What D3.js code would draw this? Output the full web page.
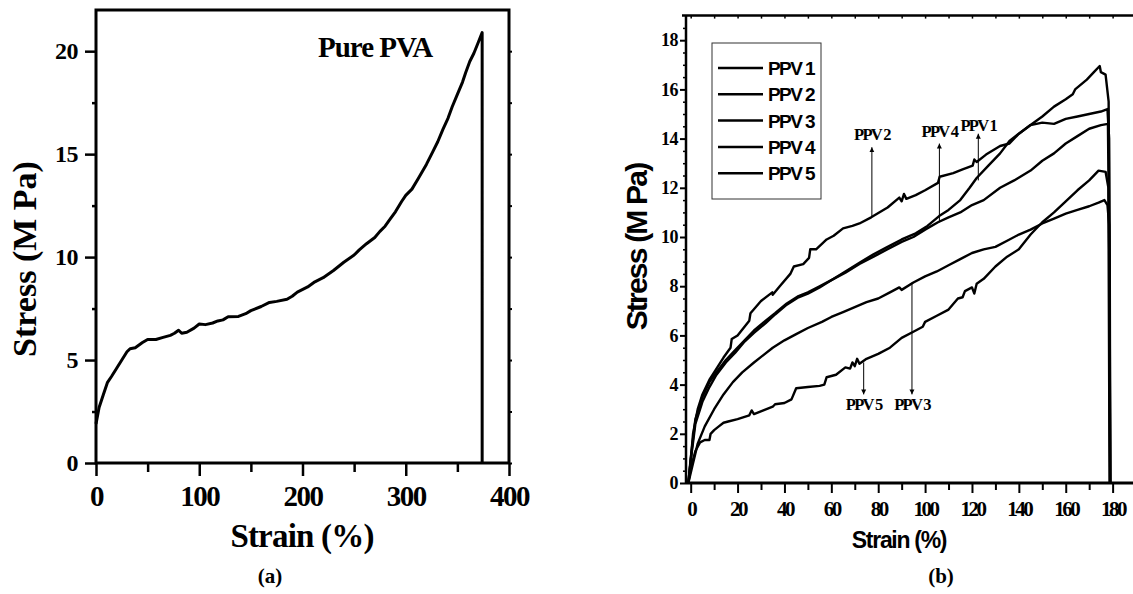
<!DOCTYPE html>
<html>
<head>
<meta charset="utf-8">
<script src="https://cdn.jsdelivr.net/npm/d3@7"></script>
<style>
  html, body { margin: 0; padding: 0; background: #fff; }
  svg { display: block; background: #fff; }
  .serif { font-family: "Liberation Serif", "Times New Roman", serif; font-weight: bold; }
  .sans { font-family: "Liberation Sans", Arial, sans-serif; font-weight: bold; }
</style>
</head>
<body>
<svg id="chart" width="1133" height="594"></svg>
<script>
/* Stress-strain curves: (a) pure PVA, (b) PPV1..PPV5 films. */

// ---- panel (a) data: [strain %, stress MPa]
var pvaCurve = [[0, 1.9], [3, 2.7], [7, 3.3], [11, 3.9], [15, 4.2], [20, 4.6], [25, 5.0], [30, 5.4],
  [33, 5.55], [38, 5.6], [45, 5.85], [50, 6.0], [58, 6.0], [65, 6.1], [72, 6.2], [76, 6.3], [80, 6.45],
  [83, 6.3], [88, 6.35], [95, 6.55], [100, 6.75], [106, 6.72], [113, 6.8], [118, 6.9], [123, 6.95],
  [128, 7.1], [138, 7.12], [145, 7.25], [150, 7.4], [160, 7.6], [168, 7.8], [175, 7.85], [185, 7.95],
  [190, 8.1], [195, 8.3], [205, 8.55], [212, 8.8], [220, 9.0], [230, 9.35], [240, 9.75], [250, 10.1],
  [255, 10.35], [262, 10.65], [270, 10.95], [275, 11.25], [280, 11.5], [285, 11.85], [290, 12.2],
  [296, 12.7], [300, 13.0], [306, 13.3], [312, 13.8], [320, 14.5], [326, 15.1], [331, 15.6], [336, 16.2],
  [341, 16.75], [345, 17.3], [350, 17.9], [355, 18.5], [358, 18.95], [362, 19.5], [366, 19.9],
  [370, 20.4], [374, 20.9], [374, 0]];
var pvaLabel = "Pure PVA";
var pvaXTicks = [0, 100, 200, 300, 400];
var pvaXMinor = [50, 150, 250, 350];
var pvaYTicks = [0, 5, 10, 15, 20];
var pvaYMinor = [2.5, 7.5, 12.5, 17.5];

// ---- panel (b) data
var ppvNames = ["PPV 1", "PPV 2", "PPV 3", "PPV 4", "PPV 5"];
var ppv1 = [[-1, 0], [0, 1.0], [2, 2.6], [5, 3.5], [8, 4.1], [11, 4.5], [15, 5.0], [19, 5.4], [23, 5.8],
  [27, 6.2], [32, 6.6], [36, 6.9], [41, 7.3], [46, 7.6], [50, 7.75], [55, 8.0], [61, 8.3], [66, 8.6],
  [72, 8.95], [78, 9.3], [84, 9.6], [90, 9.9], [96, 10.15], [101, 10.45], [106, 10.85], [110, 11.1],
  [115, 11.5], [119, 12.0], [122, 12.4], [127, 12.9], [132, 13.4], [136, 13.9], [140, 14.2], [145, 14.55],
  [150, 14.9], [155, 15.3], [160, 15.6], [163, 15.8], [164, 16.0], [169, 16.4], [172, 16.7],
  [174.5, 16.95], [175, 16.7], [177, 16.6], [178.3, 15.5], [178.8, 8], [179, 0]];
var ppv2 = [[-1, 0], [0, 0.9], [1, 2.0], [3, 3.0], [5, 3.6], [8, 4.2], [10, 4.5], [14, 5.1], [17, 5.5],
  [17.5, 5.85], [20, 6.0], [25, 6.6], [25.5, 6.9], [30, 7.4], [34.8, 7.75], [35, 7.65], [38, 8.0],
  [42.5, 8.5], [44, 8.8], [48, 8.9], [50.5, 9.15], [51, 9.5], [53.5, 9.5], [58, 9.9], [61, 10.05],
  [65, 10.35], [69, 10.45], [72, 10.55], [77, 10.8], [84, 11.2], [89, 11.6], [90, 11.45], [91, 11.75],
  [92, 11.55], [96, 11.7], [100, 11.9], [105.5, 12.2], [106.2, 12.45], [112, 12.6], [116, 12.75],
  [120.3, 12.9], [121, 13.15], [122, 13.05], [126, 13.35], [132, 13.7], [136, 13.8], [140, 14.2],
  [145, 14.55], [150, 14.65], [155, 14.6], [160, 14.8], [165, 14.9], [170, 15.0], [175, 15.1],
  [177.8, 15.2], [178.5, 14.0], [179, 0]];
var ppv3 = [[-1, 0], [1, 0.8], [3, 1.6], [6, 2.3], [10, 3.0], [14, 3.6], [18, 4.1], [22, 4.5], [27, 4.9],
  [31, 5.2], [35, 5.5], [40, 5.8], [45, 6.05], [50, 6.3], [56, 6.55], [60, 6.75], [65, 6.95], [70, 7.15],
  [75, 7.35], [80, 7.5], [85, 7.75], [89, 7.95], [90, 7.85], [95, 8.15], [100, 8.4], [105, 8.6],
  [110, 8.85], [115, 9.1], [120, 9.35], [125, 9.5], [130, 9.6], [135, 9.85], [140, 10.1], [145, 10.3],
  [150, 10.55], [155, 10.75], [160, 10.95], [165, 11.1], [170, 11.25], [174, 11.4], [176.5, 11.5],
  [177.8, 11.3], [178.5, 10.5], [179, 0]];
var ppv4 = [[-1, 0], [0, 0.9], [2, 2.4], [5, 3.3], [8, 3.9], [11, 4.4], [15, 4.9], [19, 5.3], [23, 5.75],
  [27, 6.1], [32, 6.5], [36, 6.85], [41, 7.25], [46, 7.55], [50, 7.7], [55, 7.95], [61, 8.3], [66, 8.55],
  [72, 8.9], [78, 9.2], [84, 9.5], [90, 9.8], [95, 10.0], [100, 10.3], [105.5, 10.6], [110, 10.8],
  [115, 11.0], [120, 11.3], [125, 11.5], [132, 12.0], [138, 12.3], [145, 12.7], [150, 13.1], [155, 13.4],
  [160, 13.8], [165, 14.1], [170, 14.4], [175, 14.55], [178, 14.6], [178.6, 9], [178.9, 0]];
var ppv5 = [[-1, 0], [0, 0.6], [2, 1.3], [4, 1.65], [6, 1.75], [8, 1.75], [8.5, 2.0], [10, 2.15],
  [12, 2.3], [14, 2.45], [16, 2.5], [20, 2.6], [25, 2.75], [26, 2.95], [27, 2.8], [31, 2.95], [35, 3.1],
  [36, 3.2], [40, 3.25], [43, 3.4], [45, 3.85], [50, 3.9], [55, 3.95], [57, 4.0], [58, 4.3], [62, 4.4],
  [66, 4.7], [68, 4.65], [69, 4.9], [70, 4.75], [71, 5.05], [72, 4.85], [75, 5.05], [80, 5.25],
  [85, 5.5], [90, 5.9], [95, 6.15], [99, 6.35], [100, 6.55], [105, 6.8], [110, 7.05], [114, 7.5],
  [116, 7.55], [117, 7.8], [120, 7.95], [121, 7.7], [122, 8.1], [125, 8.3], [130, 8.8], [135, 9.2],
  [140, 9.5], [145, 10.1], [150, 10.6], [155, 11.0], [160, 11.45], [165, 11.9], [170, 12.3],
  [174, 12.7], [177, 12.65], [178.2, 12.0], [178.7, 0]];
var ppvCurves = [ppv1, ppv2, ppv3, ppv4, ppv5];
var ppvXTicks = [0, 20, 40, 60, 80, 100, 120, 140, 160, 180];
var ppvXMinor = [10, 30, 50, 70, 90, 110, 130, 150, 170, 190];
var ppvYTicks = [0, 2, 4, 6, 8, 10, 12, 14, 16, 18];
// arrows: label, strain, arrow start stress, arrow tip stress, label baseline stress
var ppvNotes = [
  ["PPV 2", 77.3, 10.85, 13.65, 13.95],
  ["PPV 4", 106.1, 10.6, 13.8, 14.05],
  ["PPV 1", 122.7, 12.3, 14.2, 14.3],
  ["PPV 5", 73.8, 4.9, 3.6, 2.97],
  ["PPV 3", 94.4, 8.15, 3.6, 2.97]
];

var svg = d3.select("#chart");

// arrow head marker
svg.append("defs").append("marker")
  .attr("id", "head")
  .attr("viewBox", "0 0 10 10")
  .attr("refX", 10).attr("refY", 5)
  .attr("markerWidth", 5).attr("markerHeight", 8)
  .attr("markerUnits", "userSpaceOnUse")
  .attr("orient", "auto")
  .append("path")
  .attr("d", "M0,0 L10,5 L0,10 Z")
  .attr("fill", "#000");

// Style an axis group: no domain line, black ticks, bold text.
function styleAxis(g, cls, size, spacing, width) {
  g.select(".domain").remove();
  g.selectAll(".tick line").attr("stroke", "#000").attr("stroke-width", width);
  g.selectAll(".tick text")
    .attr("class", cls)
    .attr("fill", "#000")
    .style("font-size", size + "px")
    .style("letter-spacing", spacing + "px");
  g.attr("font-family", null).attr("font-size", null);
}

/* ---------------- panel (a) ---------------- */
var xA = d3.scaleLinear().domain([0, 400]).range([96, 509]),
  yA = d3.scaleLinear().domain([0, 22]).range([463, 10]);

var gA = svg.append("g");

gA.append("g").attr("transform", "translate(0,463)")
  .call(d3.axisBottom(xA).tickValues(pvaXMinor).tickSize(9).tickFormat(""))
  .call(styleAxis, "serif", 10, 0, 2.5);
gA.append("g").attr("transform", "translate(0,463)")
  .call(d3.axisBottom(xA).tickValues(pvaXTicks).tickSize(13).tickPadding(9))
  .call(styleAxis, "serif", 29, -1.5, 2.5);
gA.append("g").attr("transform", "translate(96,0)")
  .call(d3.axisLeft(yA).tickValues(pvaYMinor).tickSize(4).tickFormat(""))
  .call(styleAxis, "serif", 10, 0, 2.5);
gA.append("g").attr("transform", "translate(96,0)")
  .call(d3.axisLeft(yA).tickValues(pvaYTicks).tickSize(11).tickPadding(7))
  .call(styleAxis, "serif", 24, -0.5, 2.5);
gA.append("g").attr("transform", "translate(509,0)")
  .call(d3.axisRight(yA).tickValues(pvaYTicks.concat(pvaYMinor)).tickSize(3).tickFormat(""))
  .call(styleAxis, "serif", 10, 0, 2);

// frame
gA.append("rect")
  .attr("x", xA(0)).attr("y", yA(22))
  .attr("width", xA(400) - xA(0)).attr("height", yA(0) - yA(22))
  .attr("fill", "none").attr("stroke", "#000").attr("stroke-width", 3);

var lineA = d3.line().x(function (d) { return xA(d[0]); }).y(function (d) { return yA(d[1]); });
gA.append("path").datum(pvaCurve)
  .attr("d", lineA)
  .attr("fill", "none").attr("stroke", "#000")
  .attr("stroke-width", 3).attr("stroke-linejoin", "round");

gA.append("text").attr("class", "serif")
  .attr("x", 318).attr("y", 57)
  .style("font-size", "29px").style("letter-spacing", "-1px")
  .text(pvaLabel);

gA.append("text").attr("class", "serif")
  .attr("x", 302).attr("y", 547).attr("text-anchor", "middle")
  .style("font-size", "33px").style("letter-spacing", "-0.8px")
  .text("Strain (%)");
gA.append("text").attr("class", "serif")
  .attr("transform", "translate(36,259) rotate(-90)").attr("text-anchor", "middle")
  .style("font-size", "34px")
  .text("Stress (M Pa)");
gA.append("text").attr("class", "serif")
  .attr("x", 270).attr("y", 583).attr("text-anchor", "middle")
  .style("font-size", "21px")
  .text("(a)");

/* ---------------- panel (b) ---------------- */
var xB = d3.scaleLinear().domain([-2, 200]).range([686, 1159.5]),
  yB = d3.scaleLinear().domain([0, 19]).range([483, 15.6]);

var yMinorB = d3.range(0.5, 19, 0.5).filter(function (v) { return v % 2 !== 0; });

var gB = svg.append("g");

gB.append("g").attr("transform", "translate(0,483)")
  .call(d3.axisBottom(xB).tickValues(ppvXMinor).tickSize(7).tickFormat(""))
  .call(styleAxis, "serif", 10, 0, 2);
gB.append("g").attr("transform", "translate(0,483)")
  .call(d3.axisBottom(xB).tickValues(ppvXTicks).tickSize(10).tickPadding(8))
  .call(styleAxis, "serif", 21, -2.5, 2);
gB.append("g").attr("transform", "translate(686,0)")
  .call(d3.axisLeft(yB).tickValues(yMinorB).tickSize(3).tickFormat(""))
  .call(styleAxis, "serif", 10, 0, 1.5);
gB.append("g").attr("transform", "translate(686,0)")
  .call(d3.axisLeft(yB).tickValues(ppvYTicks).tickSize(6).tickPadding(2))
  .call(styleAxis, "serif", 18, -0.5, 2);
gB.append("g").attr("transform", "translate(0," + yB(19) + ")")
  .call(d3.axisTop(xB).tickValues(d3.range(0, 200, 10)).tickSize(-3).tickFormat(""))
  .call(styleAxis, "serif", 10, 0, 1.5);

// frame lines (right side is cut off)
gB.append("line")
  .attr("x1", 686).attr("x2", 686).attr("y1", yB(19)).attr("y2", yB(0))
  .attr("stroke", "#000").attr("stroke-width", 2.5);
gB.append("line")
  .attr("x1", 686).attr("x2", 1133).attr("y1", yB(0)).attr("y2", yB(0))
  .attr("stroke", "#000").attr("stroke-width", 3);
gB.append("line")
  .attr("x1", 682).attr("x2", 1133).attr("y1", yB(19)).attr("y2", yB(19))
  .attr("stroke", "#000").attr("stroke-width", 2.5);

var lineB = d3.line().x(function (d) { return xB(d[0]); }).y(function (d) { return yB(d[1]); });
gB.selectAll(".curve")
  .data(ppvCurves)
  .enter().append("path")
  .attr("class", "curve")
  .attr("d", lineB)
  .attr("fill", "none").attr("stroke", "#000")
  .attr("stroke-width", 2.4).attr("stroke-linejoin", "round");

// arrows and labels
var notes = gB.selectAll(".note").data(ppvNotes).enter().append("g").attr("class", "note");
notes.append("line")
  .attr("x1", function (d) { return xB(d[1]); })
  .attr("x2", function (d) { return xB(d[1]); })
  .attr("y1", function (d) { return yB(d[2]); })
  .attr("y2", function (d) { return yB(d[3]); })
  .attr("stroke", "#000").attr("stroke-width", 1)
  .attr("marker-end", "url(#head)");
notes.append("text").attr("class", "serif")
  .attr("x", function (d) { return xB(d[1]); })
  .attr("y", function (d) { return yB(d[4]); })
  .attr("text-anchor", "middle")
  .style("font-size", "16.5px").style("letter-spacing", "-1.7px")
  .text(function (d) { return d[0]; });

// legend
var legend = gB.append("g");
legend.append("rect")
  .attr("x", 712).attr("y", 43).attr("width", 109).attr("height", 156)
  .attr("fill", "#fff").attr("stroke", "#333").attr("stroke-width", 1);
var keys = legend.selectAll(".key").data(ppvNames).enter().append("g")
  .attr("class", "key")
  .attr("transform", function (d, i) { return "translate(0," + (68 + i * 26.3) + ")"; });
keys.append("line")
  .attr("x1", 718).attr("x2", 763)
  .attr("stroke", "#000").attr("stroke-width", 2.5);
keys.append("text").attr("class", "sans")
  .attr("x", 768).attr("y", 7)
  .style("font-size", "19px").style("letter-spacing", "-1.6px")
  .text(function (d) { return d; });

gB.append("text").attr("class", "sans")
  .attr("x", 899).attr("y", 548).attr("text-anchor", "middle")
  .style("font-size", "23px").style("letter-spacing", "-1.3px")
  .text("Strain (%)");
gB.append("text").attr("class", "sans")
  .attr("transform", "translate(647,247) rotate(-90)").attr("text-anchor", "middle")
  .style("font-size", "30px").style("letter-spacing", "-1.8px")
  .text("Stress (M Pa)");
gB.append("text").attr("class", "serif")
  .attr("x", 941).attr("y", 583).attr("text-anchor", "middle")
  .style("font-size", "21px")
  .text("(b)");
</script>
</body>
</html>
